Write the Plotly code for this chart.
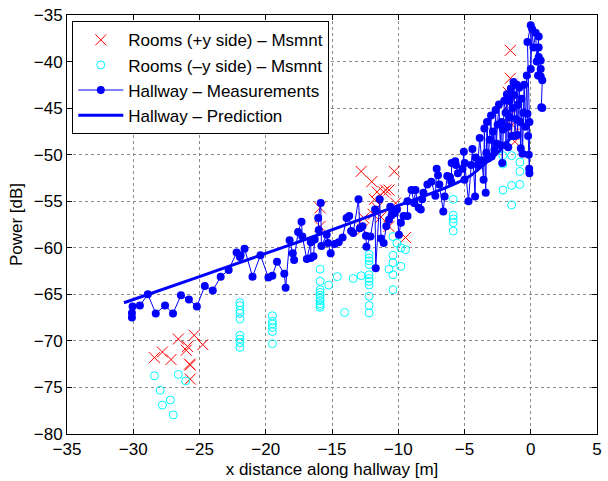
import plotly.graph_objects as go

# Rooms (+y side) measurements
room_pos_x = [-28.4, -27.8, -27.15, -26.6, -26.0, -25.9, -25.75, -25.7, -25.7, -25.4, -24.75,
              -15.9, -15.9, -12.8, -12.0, -11.6, -11.1, -10.95, -11.8, -11.9, -12.6, -12.7,
              -11.6, -11.3, -10.7, -10.3, -10.2, -9.45, -10.7,
              -1.54, -1.54, -1.7, -1.6, -1.5, -1.4, -1.3, -1.2]
room_pos_y = [-71.8, -71.2, -72.0, -69.8, -71.0, -70.6, -72.5, -72.6, -74.1, -69.4, -70.4,
              -55.7, -57.7, -51.8, -52.9, -54.0, -54.0, -53.8, -54.8, -56.4, -56.8, -58.0,
              -55.7, -56.7, -57.7, -51.8, -55.2, -58.9, -53.8,
              -38.8, -41.8, -43.3, -44.5, -45.8, -46.8, -47.8, -48.6]

# Rooms (-y side) measurements
room_neg_x = [-28.4, -27.97, -27.8, -27.2, -26.98, -26.6, -26.04,
              -21.95, -21.95, -21.95, -21.95, -21.95, -21.95, -21.95, -21.95, -21.95,
              -19.5, -19.5, -19.5, -19.5, -19.5, -19.5,
              -15.9, -15.9, -15.9, -15.9, -15.9, -15.9, -15.9, -15.9, -15.9, -15.9,
              -15.25, -14.6, -14.05, -13.4, -12.8,
              -12.2, -12.2, -12.2, -12.2, -12.2, -12.2, -12.2, -12.2, -12.2, -12.2, -12.2,
              -10.4, -10.1, -9.8, -9.45, -10.4, -10.4, -10.7, -9.8, -10.4, -10.4,
              -5.85, -5.85, -5.85, -5.85, -5.85,
              -2.1, -2.1, -1.44, -0.82, -0.82, -2.1, -1.44, -0.82, -1.44]
room_neg_y = [-73.75, -75.3, -76.9, -76.35, -77.95, -73.6, -74.3,
              -65.9, -66.2, -66.7, -67.05, -67.65, -69.4, -69.8, -70.2, -70.7,
              -67.3, -67.9, -68.2, -68.55, -69.0, -70.3,
              -62.3, -63.6, -64.5, -64.8, -65.1, -65.4, -65.7, -66.0, -66.2, -66.4,
              -64.0, -63.1, -66.95, -63.3, -63.0,
              -60.7, -61.1, -61.4, -61.8, -62.9, -63.3, -63.6, -64.0, -65.2, -66.2, -67.0,
              -58.8, -59.5, -60.0, -60.2, -60.8, -61.6, -62.3, -62.0, -62.9, -64.5,
              -54.8, -56.5, -56.9, -57.3, -58.2,
              -50.1, -51.0, -50.1, -50.8, -51.8, -53.8, -53.3, -53.2, -55.4]

# Hallway measurements (in walk order)
hall_x = [-30.1, -30.1, -30.05, -29.5, -28.9, -28.3, -27.6, -27.0, -26.4, -25.8, -25.2,
          -24.6, -24.0, -23.4, -22.8, -22.2, -21.95, -21.9, -21.6, -21.0, -20.4, -19.8,
          -19.5, -19.15, -18.6, -18.5, -18.2, -17.96, -17.86, -17.56, -17.3, -17.24,
          -16.9, -16.6, -16.6, -16.4, -16.3, -16.0, -16.04, -15.85, -15.8, -15.4, -15.3,
          -15.1, -14.8, -14.5, -14.2, -13.9, -13.7, -13.56, -13.4, -13.0, -12.9, -12.7,
          -12.44, -12.4, -12.1, -11.75, -11.7, -11.4, -11.3, -11.1, -10.9, -10.7, -10.6,
          -10.5, -10.45, -10.3, -10.1, -9.95, -9.8, -9.6, -9.3, -9.3, -9.0, -8.8, -8.7,
          -8.46, -8.3, -8.2, -8.1, -7.8, -7.5, -7.2, -7.1, -7.0, -6.9, -6.6, -6.5, -6.3,
          -6.1, -6.0, -5.97, -5.7, -5.65, -5.5, -5.15,
          -5.05, -5.0, -4.98, -4.7, -4.5, -4.4, -4.2, -4.15, -4.0, -3.85, -3.7, -3.56,
          -3.5, -3.4, -3.35, -3.3, -3.2, -3.1, -3.0, -2.95, -2.85, -2.74, -2.65, -2.6,
          -2.5, -2.4, -2.3, -2.2, -2.15, -2.1, -2.0, -1.9, -1.87, -1.8, -1.74, -1.7,
          -1.6, -1.55, -1.5, -1.45, -1.37, -1.3, -1.24, -1.2, -1.1, -1.05, -1.0, -0.95,
          -0.87, -0.8, -0.75, -0.7, -0.62, -0.55, -0.5, -0.4, -0.3, -0.25, -0.2, -0.15,
          -0.12, -0.1, -0.1, -0.25, 0.0, 0.0, 0.1, 0.2, 0.37, 0.45, 0.6, 0.6, 0.55, 0.6,
          0.75, 0.75, 0.75, 0.87, 0.8, 0.87]
hall_y = [-67.5, -67.0, -66.3, -66.2, -65.0, -67.05, -66.2, -67.05, -65.1, -65.55, -66.3,
          -64.1, -64.6, -63.1, -62.4, -60.5, -61.0, -60.8, -60.1, -63.1, -60.8, -63.2,
          -63.0, -61.5, -62.8, -64.3, -59.2, -60.6, -61.3, -58.3, -57.2, -58.8,
          -61.2, -59.4, -61.1, -60.9, -59.1, -58.1, -56.8, -55.2, -59.8, -58.6, -59.5,
          -60.6, -59.6, -59.4, -58.9, -56.8, -56.6, -58.2, -58.4, -54.8, -57.9, -57.7,
          -58.7, -59.9, -58.8, -55.9, -62.2, -54.8, -59.0, -59.5, -57.7, -57.0, -55.6,
          -56.5, -56.1, -56.3, -55.9, -58.6, -57.3, -56.6, -56.6, -55.0, -53.8, -55.2, -53.8,
          -55.7, -55.9, -54.8, -54.1, -53.2, -52.9, -54.4, -51.5, -52.2, -53.2, -56.1, -54.5, -52.3,
          -52.4, -52.9, -50.9, -50.7, -51.1, -52.0, -51.5,
          -49.7, -52.7, -50.9, -55.0, -51.1, -49.4, -54.5, -50.3, -51.1, -48.2, -50.6, -52.7,
          -47.2, -54.1, -49.8, -46.5, -50.4, -48.4, -45.8, -50.2, -47.5, -49.5, -45.2, -48.8,
          -46.8, -44.6, -49.0, -46.5, -50.9, -47.3, -44.2, -45.5, -49.0, -43.5, -47.0, -49.2,
          -44.2, -46.0, -42.9, -48.0, -45.0, -42.2, -43.6, -48.0, -46.2, -42.5, -47.9, -44.6,
          -42.8, -46.5, -49.3, -44.0, -49.9, -45.5, -42.5, -47.0, -41.5, -45.6, -48.0, -50.0,
          -51.5, -52.0, -46.5, -37.9, -36.1, -40.8, -36.5, -38.5, -36.9, -40.0, -37.3, -38.5, -41.5, -39.5,
          -39.9, -40.8, -41.6, -42.0, -44.9, -45.0]

# Hallway prediction
pred_x = [-30.7, -25.0, -20.0, -16.8, -11.6, -6.0, -4.5, -3.4, -2.5, -1.8, -1.2]
pred_y = [-65.9, -63.1, -60.6, -59.0, -56.3, -53.3, -52.2, -50.9, -49.8, -48.7, -47.6]

font_family = "Liberation Sans, Arial, sans-serif"

fig = go.Figure()
fig.add_trace(go.Scatter(
    x=room_pos_x, y=room_pos_y, mode="markers", name="Rooms (+y side) – Msmnt",
    marker=dict(symbol="x-thin-open", size=11, color="#ff0000", line=dict(width=1, color="#ff0000"))))
fig.add_trace(go.Scatter(
    x=room_neg_x, y=room_neg_y, mode="markers", name="Rooms (–y side) – Msmnt",
    marker=dict(symbol="circle-open", size=8, color="#00ffff", line=dict(width=1, color="#00ffff"))))
fig.add_trace(go.Scatter(
    x=hall_x, y=hall_y, mode="lines+markers", name="Hallway – Measurements",
    line=dict(color="#0000ff", width=1),
    marker=dict(symbol="circle", size=8, color="#0000ff")))
fig.add_trace(go.Scatter(
    x=pred_x, y=pred_y, mode="lines", name="Hallway – Prediction",
    line=dict(color="#0000ff", width=3, shape="spline")))

axis_common = dict(
    showline=True, linecolor="black", linewidth=1, mirror="ticks",
    ticks="inside", ticklen=5, tickcolor="black",
    showgrid=True, gridcolor="#8a8a8a", griddash="dot", gridwidth=1,
    zeroline=False, tickfont=dict(family=font_family, size=17, color="black"),
)

fig.update_xaxes(range=[-35, 5], dtick=5, tick0=-35,
                 title=dict(text="x distance along hallway [m]", font=dict(family=font_family, size=17, color="black"), standoff=4),
                 **axis_common)
fig.update_yaxes(range=[-80, -35], dtick=5, tick0=-80,
                 title=dict(text="Power [dB]", font=dict(family=font_family, size=17, color="black"), standoff=6),
                 **axis_common)

fig.update_layout(
    width=608, height=481,
    margin=dict(l=67, r=6, t=14, b=45),
    paper_bgcolor="white", plot_bgcolor="white",
    font=dict(family=font_family, size=17, color="black"),
    legend=dict(x=0.01, y=0.985, xanchor="left", yanchor="top",
                bgcolor="white", bordercolor="black", borderwidth=1,
                font=dict(family=font_family, size=17, color="black"),
                itemwidth=45, tracegroupgap=0),
    showlegend=True,
)

fig.write_html("out.html")
